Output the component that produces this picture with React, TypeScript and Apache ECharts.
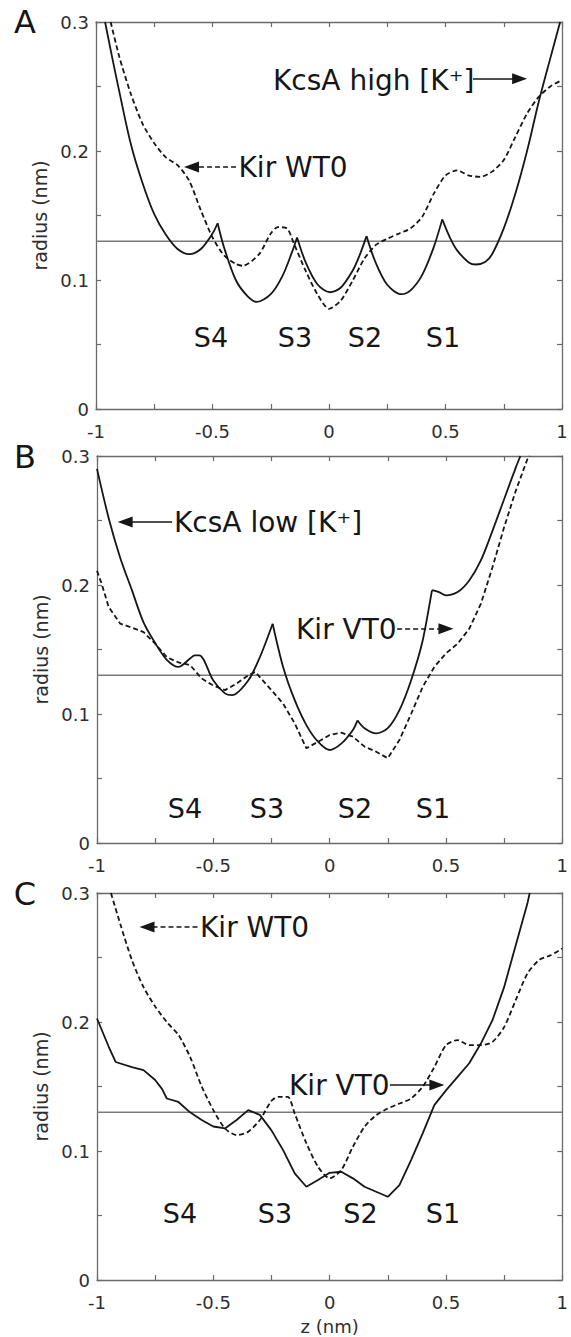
import React, { useEffect, useRef } from "react";
import * as echarts from "echarts";

const FONT = "'DejaVu Sans', 'Liberation Sans', Arial, sans-serif";
const INK = "#161616";
const AXIS_COLOR = "#6a6a6a";
const LABEL_COLOR = "#2e2e2e";
const THRESH_COLOR = "#7a7a7a";

// ---- axes ----
const xTickLabels = ["-1", "-0.5", "0", "0.5", "1"];
const yTickLabels = ["0", "0.1", "0.2", "0.3"];
const thresholdZ = [-1, 1];
const thresholdR = 0.13;

// ---- Panel A ----
const zA_kcsaHigh = [-0.961, -0.93, -0.9, -0.85, -0.8, -0.75, -0.7, -0.65, -0.6, -0.55, -0.5, -0.478, -0.45, -0.4, -0.35, -0.31, -0.25, -0.2, -0.16, -0.137, -0.1, -0.05, 0.004, 0.05, 0.1, 0.13, 0.161, 0.2, 0.25, 0.31, 0.35, 0.4, 0.45, 0.486, 0.52, 0.55, 0.6, 0.631, 0.67, 0.7, 0.75, 0.8, 0.85, 0.9, 0.95, 0.992];
const rA_kcsaHigh = [0.3, 0.272, 0.246, 0.205, 0.175, 0.151, 0.135, 0.124, 0.12, 0.124, 0.136, 0.144, 0.125, 0.1, 0.0875, 0.083, 0.089, 0.103, 0.121, 0.133, 0.1136, 0.0967, 0.0905, 0.094, 0.1068, 0.1185, 0.134, 0.1136, 0.0963, 0.089, 0.092, 0.104, 0.1257, 0.147, 0.1325, 0.123, 0.1136, 0.112, 0.114, 0.12, 0.14, 0.167, 0.2, 0.238, 0.272, 0.3];
const zA_kirWT0 = [-0.937, -0.9, -0.85, -0.8, -0.75, -0.7, -0.65, -0.6, -0.55, -0.5, -0.45, -0.4, -0.37, -0.3, -0.25, -0.22, -0.18, -0.15, -0.1, -0.05, 0, 0.05, 0.1, 0.15, 0.2, 0.25, 0.3, 0.35, 0.4, 0.45, 0.5, 0.55, 0.6, 0.65, 0.7, 0.75, 0.8, 0.85, 0.9, 0.95, 1.0];
const rA_kirWT0 = [0.3, 0.273, 0.244, 0.221, 0.206, 0.195, 0.189, 0.177, 0.154, 0.133, 0.119, 0.1125, 0.111, 0.12, 0.136, 0.141, 0.14, 0.128, 0.107, 0.089, 0.0776, 0.084, 0.099, 0.116, 0.127, 0.132, 0.136, 0.14, 0.149, 0.167, 0.181, 0.185, 0.181, 0.18, 0.184, 0.193, 0.211, 0.229, 0.242, 0.25, 0.255];

// ---- Panel B ----
const zB_kcsaLow = [-1, -0.95, -0.9, -0.85, -0.8, -0.75, -0.7, -0.65, -0.6, -0.58, -0.56, -0.5, -0.45, -0.42, -0.35, -0.3, -0.245, -0.2, -0.15, -0.1, -0.05, 0, 0.05, 0.1, 0.12, 0.15, 0.2, 0.25, 0.3, 0.35, 0.4, 0.44, 0.47, 0.5, 0.55, 0.6, 0.65, 0.7, 0.75, 0.8, 0.82];
const rB_kcsaLow = [0.29, 0.252, 0.221, 0.196, 0.171, 0.155, 0.142, 0.1365, 0.143, 0.1455, 0.1455, 0.126, 0.116, 0.1146, 0.126, 0.144, 0.17, 0.1365, 0.1107, 0.0914, 0.0785, 0.0721, 0.077, 0.0876, 0.095, 0.089, 0.085, 0.089, 0.103, 0.126, 0.157, 0.196, 0.1945, 0.192, 0.1945, 0.2035, 0.219, 0.242, 0.2665, 0.291, 0.3];
const zB_kirVT0 = [-1, -0.98, -0.95, -0.9, -0.85, -0.8, -0.75, -0.7, -0.65, -0.6, -0.55, -0.5, -0.45, -0.4, -0.35, -0.32, -0.25, -0.2, -0.15, -0.1, -0.05, 0, 0.05, 0.1, 0.15, 0.2, 0.25, 0.3, 0.35, 0.4, 0.45, 0.5, 0.55, 0.6, 0.65, 0.7, 0.75, 0.8, 0.85, 0.86];
const rB_kirVT0 = [0.211, 0.201, 0.183, 0.17, 0.167, 0.1635, 0.1545, 0.144, 0.14, 0.138, 0.1275, 0.122, 0.1185, 0.1236, 0.13, 0.1326, 0.1185, 0.108, 0.0927, 0.0734, 0.0785, 0.0837, 0.0855, 0.0824, 0.0747, 0.0708, 0.0657, 0.0798, 0.1, 0.121, 0.1365, 0.147, 0.1545, 0.166, 0.1854, 0.2137, 0.2447, 0.273, 0.2975, 0.3];

// ---- Panel C ----
const zC_kirVT0 = [-1, -0.95, -0.92, -0.85, -0.8, -0.75, -0.72, -0.7, -0.65, -0.6, -0.55, -0.5, -0.45, -0.4, -0.35, -0.3, -0.25, -0.2, -0.15, -0.1, -0.05, 0, 0.05, 0.1, 0.15, 0.2, 0.25, 0.3, 0.35, 0.4, 0.45, 0.5, 0.55, 0.6, 0.65, 0.7, 0.75, 0.8, 0.85, 0.86];
const rC_kirVT0 = [0.2027, 0.181, 0.169, 0.165, 0.1627, 0.155, 0.148, 0.1407, 0.138, 0.13, 0.124, 0.119, 0.1175, 0.124, 0.1317, 0.128, 0.116, 0.1007, 0.0826, 0.0723, 0.0775, 0.0831, 0.0839, 0.0788, 0.0723, 0.0684, 0.0645, 0.0736, 0.093, 0.1136, 0.1356, 0.147, 0.1575, 0.168, 0.1833, 0.2014, 0.227, 0.2595, 0.2918, 0.3];
const zC_kirWT0 = [-0.94, -0.9, -0.85, -0.8, -0.75, -0.7, -0.65, -0.6, -0.55, -0.5, -0.45, -0.4, -0.35, -0.3, -0.25, -0.22, -0.18, -0.15, -0.1, -0.05, 0, 0.05, 0.1, 0.15, 0.2, 0.25, 0.3, 0.35, 0.4, 0.45, 0.5, 0.55, 0.6, 0.65, 0.7, 0.75, 0.8, 0.85, 0.9, 0.95, 1];
const rC_kirWT0 = [0.3, 0.276, 0.248, 0.227, 0.212, 0.2, 0.19, 0.173, 0.15, 0.1317, 0.1175, 0.1123, 0.115, 0.124, 0.139, 0.142, 0.142, 0.129, 0.106, 0.0878, 0.0788, 0.0852, 0.1033, 0.1188, 0.1278, 0.133, 0.1368, 0.1407, 0.1498, 0.165, 0.182, 0.186, 0.182, 0.182, 0.1846, 0.196, 0.217, 0.2375, 0.248, 0.2517, 0.257];

// annotation arrows: [zFrom, zTo, r, dashed]
const arrowsA: [number, number, number, boolean][] = [[0.618, 0.818, 0.256, false], [-0.399, -0.59, 0.1876, true]];
const arrowsB: [number, number, number, boolean][] = [[-0.677, -0.879, 0.2488, false], [0.29, 0.5, 0.1661, true]];
const arrowsC: [number, number, number, boolean][] = [[-0.568, -0.785, 0.2736, true], [0.259, 0.461, 0.1512, false]];

const siteLabels = ["S4", "S3", "S2", "S1"];

const zip = (zs: number[], rs: number[]) => zs.map((z, i) => [z, rs[i]]);

// split a curve at its sharp peaks (cusps) so each arc can be smoothed on its own
function splitAtPeaks(data: number[][]) {
  const segs: number[][][] = [];
  let cur: number[][] = [data[0]];
  for (let k = 1; k < data.length; k++) {
    cur.push(data[k]);
    if (k < data.length - 1 && data[k][1] > data[k - 1][1] && data[k][1] > data[k + 1][1]) {
      segs.push(cur);
      cur = [data[k]];
    }
  }
  segs.push(cur);
  return segs;
}

const grids = [
  { left: 96, top: 22, width: 466, height: 387 },
  { left: 97, top: 456, width: 467, height: 387 },
  { left: 97, top: 893, width: 468, height: 387 },
];

function axesFor(i: number, withXName: boolean) {
  const line = { show: true, onZero: false, lineStyle: { color: AXIS_COLOR, width: 1.3 } };
  const tick = { show: true, inside: true, length: 5, lineStyle: { color: AXIS_COLOR, width: 1.2 } };
  const labelStyle = { fontSize: 18, fontFamily: FONT, color: LABEL_COLOR };
  const xb: any = {
    type: "value", gridIndex: i, position: "bottom", min: -1, max: 1, interval: 0.25,
    axisLine: line, axisTick: tick, splitLine: { show: false },
    axisLabel: { ...labelStyle, show: true, margin: 13, formatter: (v: number) => (xTickLabels.includes(String(v)) ? String(v) : "") },
  };
  if (withXName) {
    xb.name = "z (nm)";
    xb.nameLocation = "middle";
    xb.nameGap = 37;
    xb.nameTextStyle = { fontSize: 18, fontFamily: FONT, color: LABEL_COLOR };
  }
  const xt = {
    type: "value", gridIndex: i, position: "top", min: -1, max: 1, interval: 0.25,
    axisLine: line, axisTick: tick, splitLine: { show: false }, axisLabel: { show: false },
  };
  const yl = {
    type: "value", gridIndex: i, position: "left", min: 0, max: 0.3, interval: 0.05,
    axisLine: line, axisTick: tick, splitLine: { show: false },
    axisLabel: { ...labelStyle, show: true, margin: 7, formatter: (v: number) => (yTickLabels.includes(String(v)) ? String(v) : "") },
    name: "radius (nm)", nameLocation: "middle", nameGap: 36,
    nameTextStyle: { fontSize: 19, fontFamily: FONT, color: LABEL_COLOR },
  };
  const yr = {
    type: "value", gridIndex: i, position: "right", min: 0, max: 0.3, interval: 0.05,
    axisLine: line, axisTick: tick, splitLine: { show: false }, axisLabel: { show: false },
  };
  return { x: [xb, xt], y: [yl, yr] };
}

function curve(name: string, i: number, data: number[][], dashed: boolean, smooth: number | boolean) {
  return {
    name, type: "line", xAxisIndex: 2 * i, yAxisIndex: 2 * i, data,
    showSymbol: false, symbol: "none", smooth, silent: true, z: 3,
    lineStyle: { color: INK, width: 1.8, type: dashed ? [5, 3] : "solid" },
  };
}

function cuspCurve(name: string, i: number, data: number[][]) {
  return splitAtPeaks(data).map((seg, k) => curve(name + (k ? " #" + k : ""), i, seg, false, 0.3));
}

function threshold(i: number, arrows: [number, number, number, boolean][]) {
  return {
    name: "threshold" + i, type: "line", xAxisIndex: 2 * i, yAxisIndex: 2 * i,
    data: thresholdZ.map((z) => [z, thresholdR]),
    showSymbol: false, symbol: "none", silent: true, z: 2,
    lineStyle: { color: THRESH_COLOR, width: 1.4 },
    markLine: {
      silent: true, symbol: ["none", "triangle"], symbolSize: [11, 15],
      label: { show: false },
      data: arrows.map(([z0, z1, r, dashed]) => [
        { coord: [z0, r], lineStyle: { color: INK, width: 1.5, type: dashed ? [5, 3] : "solid" }, itemStyle: { color: INK } },
        { coord: [z1, r], lineStyle: { color: INK, width: 1.5, type: dashed ? [5, 3] : "solid" }, itemStyle: { color: INK } },
      ]),
    },
  };
}

function txt(text: string, x: number, y: number, size: number, align: string = "left") {
  return {
    type: "text", x, y, silent: true, z: 10,
    style: {
      text, fontSize: size, fontFamily: FONT, fill: INK,
      align, verticalAlign: "middle", textAlign: align, textVerticalAlign: "middle",
    },
  };
}

const sitesA = [211, 295, 365, 443];
const sitesB = [185, 267, 355, 433];
const sitesC = [180, 275, 360.5, 443];

export default function App() {
  const ref = useRef<HTMLDivElement>(null);
  useEffect(() => {
    const chart = echarts.init(ref.current!, null, { renderer: "svg" });
    const a0 = axesFor(0, false);
    const a1 = axesFor(1, false);
    const a2 = axesFor(2, true);
    const graphics: any[] = [
      txt("A", 25, 22, 32, "center"),
      txt("KcsA high [K⁺]", 273, 80, 28),
      txt("Kir WT0", 238.5, 167, 28),
      ...siteLabels.map((s, k) => txt(s, sitesA[k], 337, 27, "center")),
      txt("B", 25, 457, 32, "center"),
      txt("KcsA low [K⁺]", 174, 522, 28),
      txt("Kir VT0", 296, 629, 28),
      ...siteLabels.map((s, k) => txt(s, sitesB[k], 808, 27, "center")),
      txt("C", 25, 894, 32, "center"),
      txt("Kir WT0", 200, 927, 28),
      txt("Kir VT0", 289, 1085, 28),
      ...siteLabels.map((s, k) => txt(s, sitesC[k], 1213, 27, "center")),
    ];
    const option: any = {
      animation: false,
      backgroundColor: "#ffffff",
      grid: grids.map((g) => ({ ...g, containLabel: false })),
      xAxis: [...a0.x, ...a1.x, ...a2.x],
      yAxis: [...a0.y, ...a1.y, ...a2.y],
      series: [
        threshold(0, arrowsA),
        ...cuspCurve("KcsA high [K+]", 0, zip(zA_kcsaHigh, rA_kcsaHigh)),
        curve("Kir WT0 (A)", 0, zip(zA_kirWT0, rA_kirWT0), true, 0.25),
        threshold(1, arrowsB),
        ...cuspCurve("KcsA low [K+]", 1, zip(zB_kcsaLow, rB_kcsaLow)),
        curve("Kir VT0 (B)", 1, zip(zB_kirVT0, rB_kirVT0), true, false),
        threshold(2, arrowsC),
        curve("Kir VT0 (C)", 2, zip(zC_kirVT0, rC_kirVT0), false, false),
        curve("Kir WT0 (C)", 2, zip(zC_kirWT0, rC_kirWT0), true, 0.25),
      ],
      graphic: graphics,
    };
    chart.setOption(option);
    return () => chart.dispose();
  }, []);
  return (
    <div
      ref={ref}
      style={{ position: "absolute", left: 0, top: 0, width: 571, height: 1337, background: "#fff" }}
    />
  );
}
